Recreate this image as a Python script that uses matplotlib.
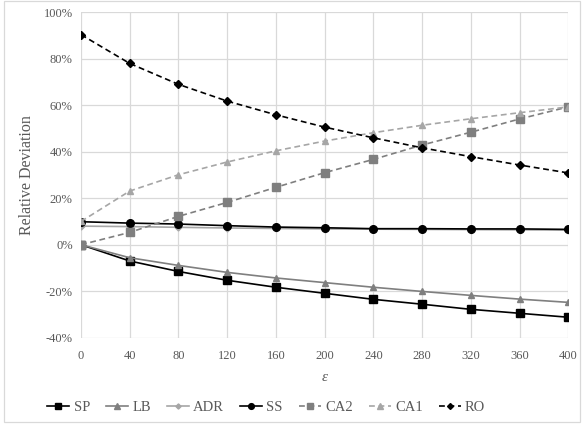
import matplotlib
matplotlib.use("Agg")
import matplotlib.pyplot as plt
from matplotlib.patches import Rectangle
from matplotlib.ticker import FuncFormatter

# data
eps = [0, 40, 80, 120, 160, 200, 240, 280, 320, 360, 400]
sp = [0, -7.0, -11.5, -15.3, -18.3, -20.9, -23.5, -25.6, -27.8, -29.5, -31.2]
lb = [0, -5.6, -8.9, -11.9, -14.3, -16.3, -18.3, -20.1, -21.8, -23.4, -24.8]
adr = [8.0, 7.8, 7.5, 7.2, 7.0, 6.8, 6.7, 6.6, 6.5, 6.4, 6.3]
ss = [9.9, 9.3, 8.9, 8.2, 7.6, 7.3, 6.9, 6.9, 6.8, 6.8, 6.6]
ca2 = [0, 5.3, 12.2, 18.2, 24.7, 31.0, 36.7, 42.9, 48.4, 54.1, 59.3]
ca1 = [10.0, 23.1, 30.1, 35.6, 40.4, 44.6, 48.2, 51.4, 54.2, 56.8, 59.3]
ro = [90.4, 78.0, 69.0, 61.8, 55.9, 50.6, 46.0, 41.7, 37.9, 34.3, 30.9]

series = [
    ("SP", sp, "#000000", "-", "s", 6),
    ("LB", lb, "#7f7f7f", "-", "^", 5),
    ("ADR", adr, "#a6a6a6", "-", "D", 3.5),
    ("SS", ss, "#000000", "-", "o", 5.5),
    ("CA2", ca2, "#7f7f7f", "--", "s", 6),
    ("CA1", ca1, "#a6a6a6", "--", "^", 5),
    ("RO", ro, "#000000", "--", "D", 4),
]

plt.rcParams["font.family"] = ["Liberation Serif", "DejaVu Serif"]

fig = plt.figure(figsize=(5.84, 4.26), dpi=100)
ax = fig.add_axes([0.1387, 0.2073, 0.8343, 0.7638])

for name, vals, color, ls, marker, ms in series:
    line, = ax.plot(eps, vals, color=color, linewidth=1.2,
                    marker=marker, markersize=ms, label=name)
    if ls == "--":
        line.set_dashes((3.5, 2.2))

ax.set_xlim(0, 400)
ax.set_ylim(-40, 100)
ax.set_xticks(eps)
ax.set_yticks(range(-40, 101, 20))
ax.yaxis.set_major_formatter(FuncFormatter(lambda v, p: f"{int(v)}%"))
ax.grid(True, color="#d9d9d9", linewidth=0.9)
ax.set_axisbelow(True)
for s in ax.spines.values():
    s.set_visible(False)
ax.tick_params(length=0, labelsize=9, labelcolor="#595959")
ax.tick_params(axis="x", pad=9)
ax.tick_params(axis="y", pad=6)

ax.set_xlabel("ε", fontsize=11, style="italic", color="#595959", labelpad=6)
ax.set_ylabel("Relative Deviation", fontsize=11.5, color="#595959", labelpad=6)

leg = fig.legend(loc="center left", bbox_to_anchor=(40 / 584, 1 - 407 / 426),
                 ncol=7, frameon=False, fontsize=10.5, handlelength=1.5,
                 columnspacing=1.1, handletextpad=0.3, markerscale=0.75,
                 borderpad=0)
for t in leg.get_texts():
    t.set_color("#595959")

fig.patches.append(Rectangle((4 / 584, 4 / 426), 576 / 584, 421 / 426,
                             transform=fig.transFigure, fill=False,
                             edgecolor="#d9d9d9", linewidth=0.9))

fig.savefig("out.png", dpi=100)
